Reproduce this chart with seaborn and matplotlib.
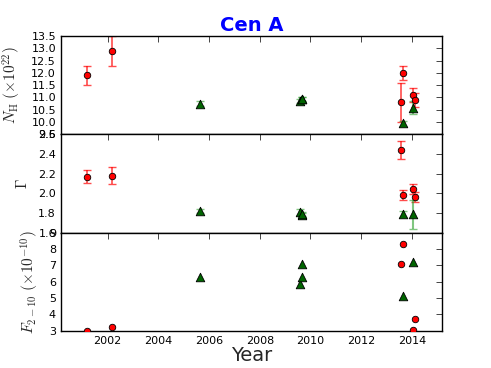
import numpy as np
import pandas as pd
import matplotlib
matplotlib.use("Agg")
import matplotlib.pyplot as plt
import seaborn as sns

# red circles
red_year = [2001.2, 2002.17, 2013.56, 2013.64, 2014.04, 2014.13]
red_nh = [11.9, 12.9, 10.8, 12.0, 11.1, 10.9]
red_nh_err = [0.4, 0.6, 0.8, 0.3, 0.3, 0.3]
red_gamma = [2.17, 2.18, 2.44, 1.98, 2.04, 1.96]
red_gamma_err = [0.07, 0.09, 0.09, 0.05, 0.05, 0.05]
red_flux = [3.02, 3.22, 7.07, 8.3, 3.04, 3.71]

# green triangles
green_year = [2005.64, 2009.57, 2009.65, 2009.66, 2013.64, 2014.04]
green_nh = [10.74, 10.86, 10.94, 10.95, 9.95, 10.59]
green_nh_err = [0.1, 0.08, 0.08, 0.08, 0.1, 0.25]
green_gamma = [1.82, 1.81, 1.78, 1.79, 1.785, 1.785]
green_gamma_err = [0.02, 0.03, 0.02, 0.02, 0.03, 0.15]
green_flux = [6.27, 5.86, 6.27, 7.07, 5.12, 7.23]

red = pd.DataFrame({"year": red_year, "nh": red_nh, "nh_err": red_nh_err,
                    "gamma": red_gamma, "gamma_err": red_gamma_err, "flux": red_flux})
green = pd.DataFrame({"year": green_year, "nh": green_nh, "nh_err": green_nh_err,
                      "gamma": green_gamma, "gamma_err": green_gamma_err, "flux": green_flux})

sns.set_style("white")
plt.rcParams["mathtext.fontset"] = "cm"
plt.rcParams["xtick.direction"] = "in"
plt.rcParams["ytick.direction"] = "in"

fig, axes = plt.subplots(3, 1, sharex=True, figsize=(4.91, 3.68), dpi=100)
fig.subplots_adjust(left=0.124, right=0.900, top=0.902, bottom=0.101, hspace=0)

panels = [("nh", "nh_err", (9.5, 13.5), np.arange(9.5, 13.51, 0.5),
           r"$N_{\rm H}\ (\times10^{22})$"),
          ("gamma", "gamma_err", (1.6, 2.6), np.arange(1.6, 2.61, 0.2), r"$\Gamma$"),
          ("flux", None, (3, 9), np.arange(3, 9.1, 1), r"$F_{2-10}\ (\times10^{-10})$")]

for ax, (col, err, lim, ticks, label) in zip(axes, panels):
    if err is not None:
        ax.errorbar(red["year"], red[col], yerr=red[err], fmt="none", ecolor="red",
                    alpha=0.7, capsize=3, elinewidth=1.2, zorder=2)
        ax.errorbar(green["year"], green[col], yerr=green[err], fmt="none",
                    ecolor="#2ca02c", alpha=0.6, capsize=3, elinewidth=1.5, zorder=2)
    sns.scatterplot(data=red, x="year", y=col, ax=ax, color="red", marker="o",
                    s=22, edgecolor="black", linewidth=0.6, zorder=3)
    sns.scatterplot(data=green, x="year", y=col, ax=ax, color="#006400", marker="^",
                    s=38, edgecolor="black", linewidth=0.6, zorder=3)
    ax.set_ylim(*lim)
    ax.set_yticks(ticks)
    ax.set_ylabel(label, fontsize=11, labelpad=6)
    ax.tick_params(labelsize=8, labelcolor="black", top=True, right=True,
                   length=4, width=0.6)
    for sp in ax.spines.values():
        sp.set_color("black")
        sp.set_linewidth(1.0)

axes[1].set_yticklabels([f"{t:.1f}" for t in np.arange(1.6, 2.61, 0.2)])
axes[2].set_xlim(2000.16, 2015.18)
axes[2].set_xticks([2002, 2004, 2006, 2008, 2010, 2012, 2014])
axes[2].set_xlabel("Year", fontsize=14, labelpad=0)
axes[0].set_title("Cen A", color="blue", fontsize=14, fontweight="bold", pad=4)

fig.savefig("out.png", dpi=100)
